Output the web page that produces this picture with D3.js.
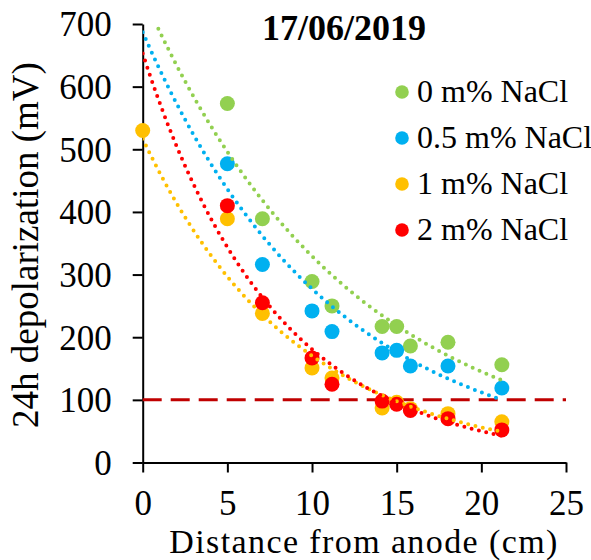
<!DOCTYPE html>
<html>
<head>
<meta charset="utf-8">
<script src="https://cdn.jsdelivr.net/npm/d3@7"></script>
<style>
  body { margin: 0; background: #fff; }
  #chart-container { width: 591px; height: 560px; }
  text { font-family: "Liberation Serif", "Times New Roman", serif; fill: #000; }
</style>
</head>
<body>
<div id="chart-container"></div>
<script>
// Series labels and colours
const seriesNames = ["0 m% NaCl", "0.5 m% NaCl", "1 m% NaCl", "2 m% NaCl"];
const seriesColors = ["#92D050", "#00B0F0", "#FFC000", "#FF0000"];

// Distances from anode (cm) and 24h depolarization (mV)
const xGreen = [5, 7.07, 10, 11.18, 14.14, 15, 15.81, 18.03, 21.21];
const yGreen = [573, 389, 289, 250, 217, 217, 186, 192, 156];

const xBlue = [5, 7.07, 10, 11.18, 14.14, 15, 15.81, 18.03, 21.21];
const yBlue = [477, 316, 242, 209, 175, 179, 154, 154, 119];

const xYellow = [0, 5, 7.07, 10, 11.18, 14.14, 15, 15.81, 18.03, 21.21];
const yYellow = [530, 389, 238, 151, 135, 87, 96, 86, 78, 65];

const xRed = [5, 7.07, 10, 11.18, 14.14, 15, 15.81, 18.03, 21.21];
const yRed = [410, 255, 167, 125, 98, 93, 83, 70, 52];

// Exponential trendline coefficients (y = a * e^(-b x))
const trendA = [747, 687, 517, 653];
const trendB = [0.0819, 0.0907, 0.111, 0.1284];
const trendEnd = 21.21;

// Axis ticks
const xTicks = [0, 5, 10, 15, 20, 25];
const yTicks = [0, 100, 200, 300, 400, 500, 600, 700];
const threshold = 100;

const chartTitle = "17/06/2019";
const xTitle = "Distance from anode (cm)";
const yTitle = "24h depolarization (mV)";

const seriesX = [xGreen, xBlue, xYellow, xRed];
const seriesY = [yGreen, yBlue, yYellow, yRed];

const width = 591, height = 560;
const plotLeft = 142.7, plotRight = 566, plotTop = 24, plotBottom = 462.5;

const svg = d3.select("#chart-container").append("svg")
    .attr("width", width)
    .attr("height", height);

const x = d3.scaleLinear().domain([0, 25]).range([plotLeft, plotRight]);
const y = d3.scaleLinear().domain([0, 700]).range([plotBottom, plotTop]);

// clip for the trendlines (they run above 700 near the origin)
svg.append("clipPath").attr("id", "plot-clip")
  .append("rect")
    .attr("x", plotLeft).attr("y", plotTop)
    .attr("width", plotRight - plotLeft).attr("height", plotBottom - plotTop);

// Axes
const yAxis = svg.append("g")
    .attr("transform", `translate(${plotLeft},0)`)
    .call(d3.axisLeft(y).tickValues(yTicks).tickSize(10).tickPadding(21).tickSizeOuter(0));

const xAxis = svg.append("g")
    .attr("transform", `translate(0,${plotBottom})`)
    .call(d3.axisBottom(x).tickValues(xTicks).tickSize(10).tickPadding(0).tickSizeOuter(0));

[xAxis, yAxis].forEach(g => {
  g.attr("font-family", null);
  g.select(".domain").attr("stroke", "#000").attr("stroke-width", 2);
  g.selectAll(".tick line").attr("stroke", "#000").attr("stroke-width", 2);
  g.selectAll(".tick text")
    .style("font-family", "'Liberation Serif', serif")
    .style("font-size", "35px")
    .attr("fill", "#000");
});
yAxis.selectAll(".tick text").attr("dy", "0.34em");
xAxis.selectAll(".tick text").attr("y", 52).attr("dy", null);

// Threshold line at 100 mV
svg.append("line")
    .attr("x1", x(0)).attr("x2", x(25))
    .attr("y1", y(threshold)).attr("y2", y(threshold))
    .attr("stroke", "#C00000")
    .attr("stroke-width", 3)
    .attr("stroke-dasharray", "19 9");

// Markers
seriesX.forEach((xs, i) => {
  const pts = xs.map((v, j) => [v, seriesY[i][j]]);
  svg.append("g").selectAll("circle")
    .data(pts)
    .enter()
    .append("circle")
    .attr("cx", d => x(d[0]))
    .attr("cy", d => y(d[1]))
    .attr("r", 7.5)
    .attr("fill", seriesColors[i]);
});

// Dotted exponential trendlines, drawn on top of the markers
const line = d3.line().x(d => x(d[0])).y(d => y(d[1]));
trendA.forEach((a, i) => {
  const pts = d3.range(0, trendEnd + 0.001, 0.05).map(v => [v, a * Math.exp(-trendB[i] * v)]);
  svg.append("path")
    .datum(pts)
    .attr("clip-path", "url(#plot-clip)")
    .attr("d", line)
    .attr("fill", "none")
    .attr("stroke", seriesColors[i])
    .attr("stroke-width", 4)
    .attr("stroke-linecap", "round")
    .attr("stroke-dasharray", "0 7.5");
});

// Title
svg.append("text")
    .attr("x", 344).attr("y", 40)
    .attr("text-anchor", "middle")
    .style("font-size", "36px")
    .style("font-weight", "bold")
    .text(chartTitle);

// Axis titles
svg.append("text")
    .attr("x", 364).attr("y", 552.5)
    .attr("text-anchor", "middle")
    .style("font-size", "34px")
    .style("letter-spacing", "1.4px")
    .text(xTitle);

svg.append("text")
    .attr("transform", "translate(38,245) rotate(-90)")
    .attr("text-anchor", "middle")
    .style("font-size", "37px")
    .text(yTitle);

// Legend
const legend = svg.append("g").attr("transform", "translate(402,92)");
seriesNames.forEach((name, i) => {
  const row = legend.append("g").attr("transform", `translate(0,${i * 46})`);
  row.append("circle").attr("r", 6.8).attr("fill", seriesColors[i]);
  row.append("text")
    .attr("x", 15).attr("y", 10)
    .style("font-size", "32px")
    .text(name);
});
</script>
</body>
</html>
